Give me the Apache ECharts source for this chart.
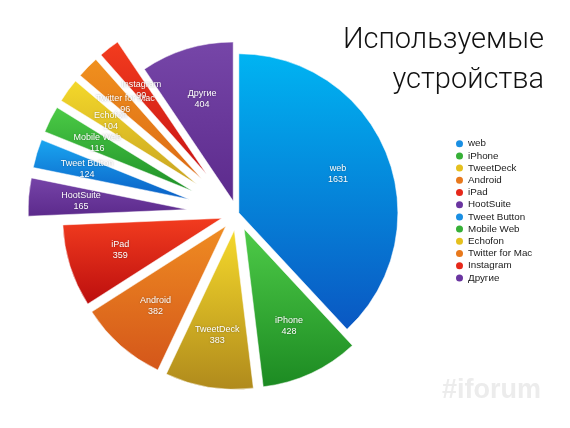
<!DOCTYPE html>
<html><head><meta charset="utf-8">
<script src="https://cdn.jsdelivr.net/npm/echarts@6/dist/echarts.min.js"></script>
<style>html,body{margin:0;padding:0;background:#fff}#c{width:570px;height:428px}</style>
</head><body><div id="c"></div>
<script>
// ---- data ----
const categories = ['web','iPhone','TweetDeck','Android','iPad','HootSuite','Tweet Button','Mobile Web','Echofon','Twitter for Mac','Instagram','Другие'];
const values = [1631,428,383,382,359,165,124,116,104,96,90,404];
const titleLines = ['Используемые','устройства'];
const watermark = '#iforum';

// ---- styles ----
const topColors    = ['#00B4F2','#4ECB48','#F5D92B','#EF8C22','#F23C1F','#7644A8','#1AA6F0','#4CCB46','#F4D82A','#F0901E','#F33C1E','#7646A8'];
const bottomColors = ['#0A57C2','#1C8A22','#B08A1C','#D4561A','#BC0E0E','#5C2A8C','#0A5FC6','#1E9028','#C8A422','#DC6A14','#C81414','#5C2A8C'];
const legendColors = ['#1A8FE3','#36B037','#E5C01E','#E8791C','#E6281A','#6A35A0','#1A8FE3','#36B037','#E5C01E','#E8791C','#E6281A','#6A35A0'];
const explode = [2,17,17,17,16,50,50,50,50,50,50,13];
const R = 159, CX = 237, CY = 213.5, LABEL_R0 = 48;

const chart = echarts.init(document.getElementById('c'), null, {renderer:'canvas'});
const series = [];
const hidden = {color:'rgba(0,0,0,0)', borderWidth:0};
categories.forEach((name, i) => {
  const grad = new echarts.graphic.LinearGradient(0,0,0,1,[{offset:0,color:topColors[i]},{offset:1,color:bottomColors[i]}]);
  const common = {
    type:'pie', center:[CX,CY], startAngle:90, clockwise:true, silent:true,
    selectedMode:'multiple', selectedOffset: explode[i], avoidLabelOverlap:false,
    minShowLabelAngle:0, labelLayout:{hideOverlap:false},
    emphasis:{disabled:true, scale:false}, animation:false, labelLine:{show:false}
  };
  series.push(Object.assign({}, common, {
    radius:[0,R],
    label:{show:false},
    data: categories.map((n,j)=> j===i
      ? {name:n, value:values[j], selected:true, itemStyle:{color:grad, borderColor:'#fff', borderWidth:0.5}}
      : {name:n, value:values[j], itemStyle:hidden})
  }));
  series.push(Object.assign({}, common, {
    radius:[LABEL_R0,R], z:5,
    data: categories.map((n,j)=> j===i
      ? {name:n, value:values[j], selected:true, itemStyle:hidden,
         label:{show:true, position:'inside', formatter:'{b}\n{c}', color:'#fff', fontSize:9,
                lineHeight:11, fontFamily:'Liberation Sans',
                textShadowColor:'rgba(0,0,0,0.35)', textShadowBlur:2}}
      : {name:n, value:values[j], itemStyle:hidden, label:{show:false}})
  }));
});

chart.setOption({
  backgroundColor:'#fff',
  legend:{
    orient:'vertical', left:451, top:132.7, icon:'circle', itemWidth:7, itemHeight:7, itemGap:0.2,
    selectedMode:false,
    textStyle:{fontFamily:'Liberation Sans', fontSize:9.8, lineHeight:12, color:'#1a1a1a'},
    data: categories.map((n,i)=>({name:n, itemStyle:{color:legendColors[i], borderWidth:0}}))
  },
  graphic:[
    {type:'text', x:544, y:41, silent:true,
      style:{text:titleLines[0], font:'300 29px Roboto', fill:'#111', align:'right', verticalAlign:'middle'}},
    {type:'text', x:544, y:80.5, silent:true,
      style:{text:titleLines[1], font:'300 29px Roboto', fill:'#111', align:'right', verticalAlign:'middle'}},
    {type:'text', left:442, top:377, silent:true,
      style:{text:watermark, font:'bold 27px "Liberation Sans"', fill:'#ececec'}}],
  series
});
</script></body></html>
